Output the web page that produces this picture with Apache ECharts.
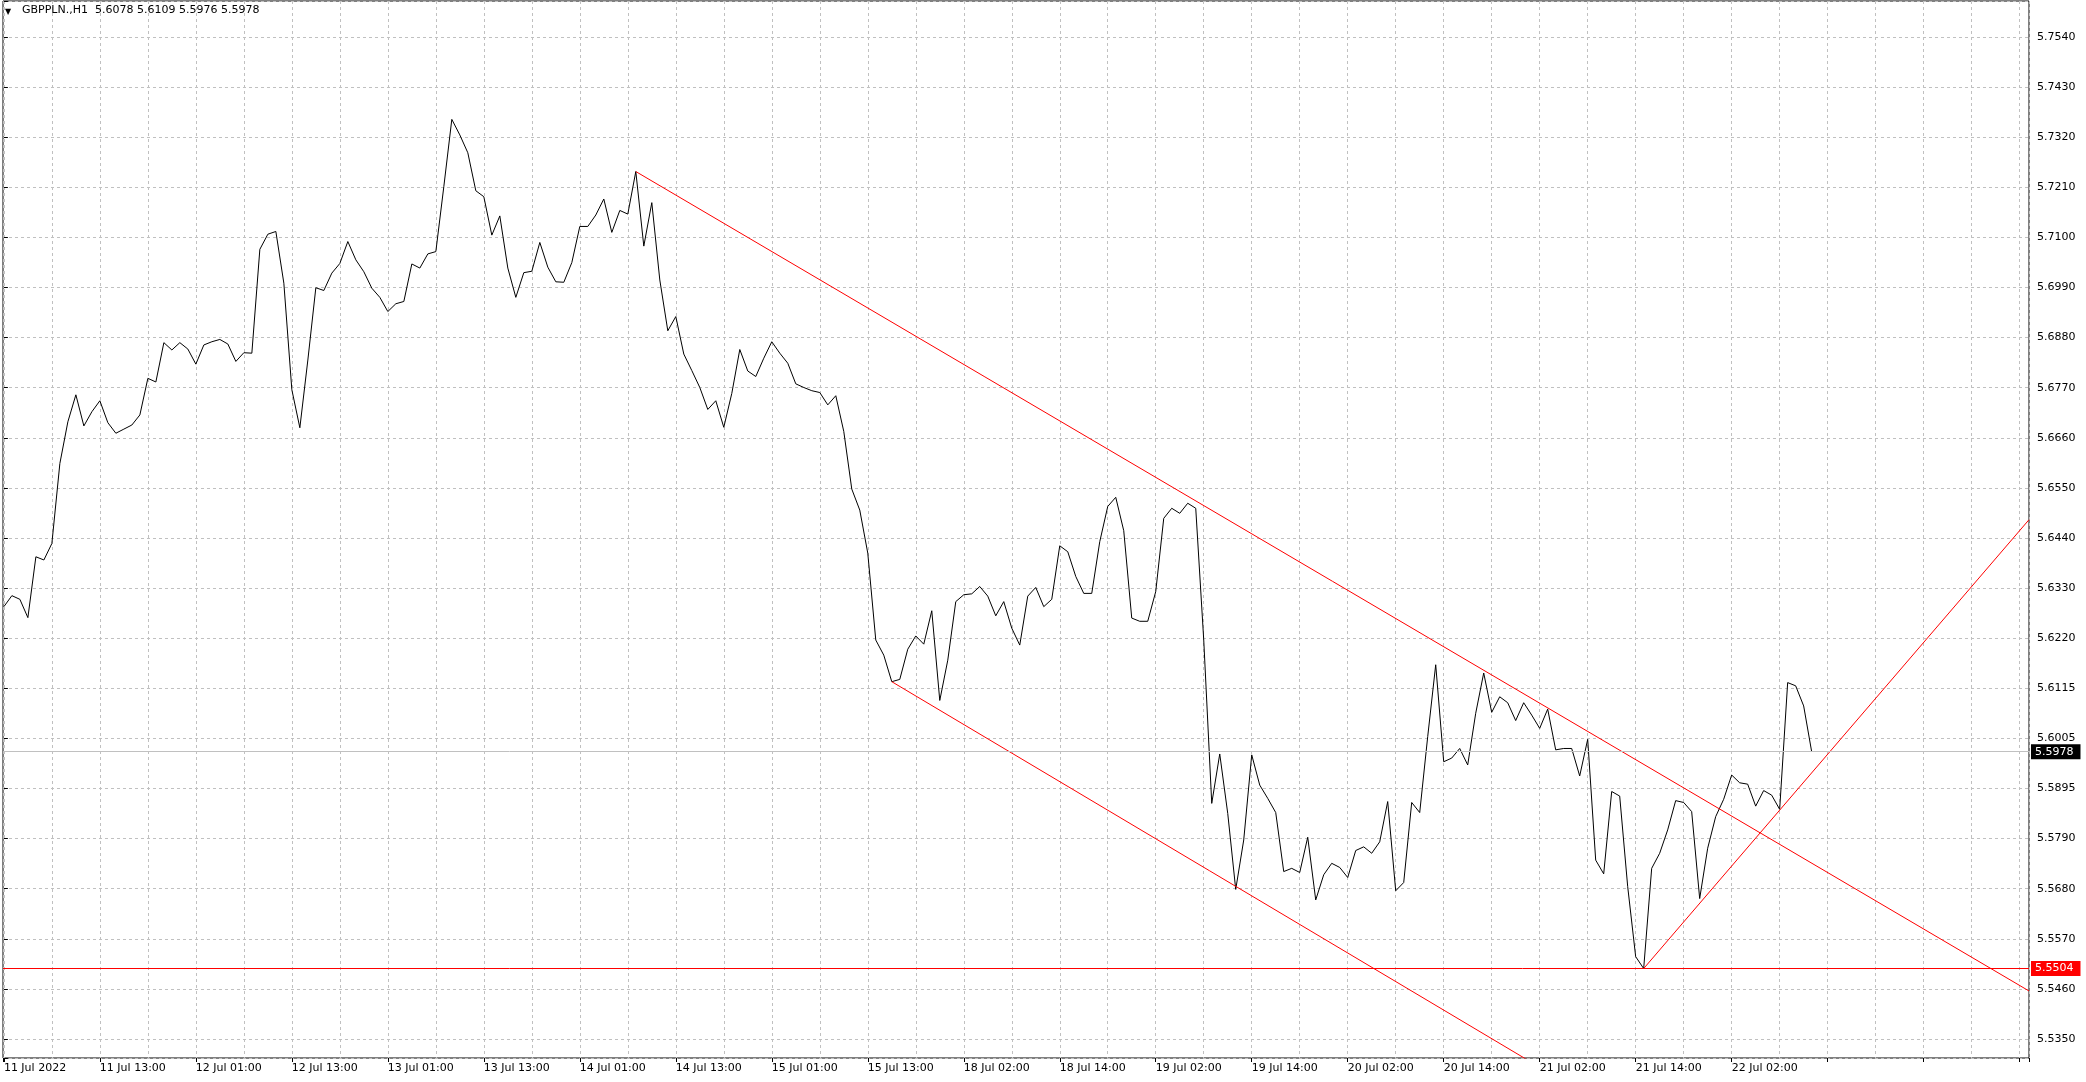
<!DOCTYPE html>
<html>
<head>
<meta charset="utf-8">
<script src="https://cdn.jsdelivr.net/npm/echarts@6/dist/echarts.min.js"></script>
<style>
html,body{margin:0;padding:0;background:#fff;}
#main{width:2086px;height:1082px;}
</style>
</head>
<body>
<div id="main"></div>
<script>
// ---- data ----
const SYMBOL = 'GBPPLN.,H1';
const OHLC = ['5.6078', '5.6109', '5.5976', '5.5978'];

// hourly closes, bar 0 = 11 Jul 2022 01:00
const CLOSE = [
  5.6295, 5.6319, 5.6311, 5.6271, 5.6404, 5.6397, 5.6433, 5.6608, 5.6699, 5.6758,
  5.6690, 5.6721, 5.6745, 5.6697, 5.6674, 5.6683, 5.6692, 5.6714, 5.6794, 5.6786,
  5.6872, 5.6856, 5.6872, 5.6858, 5.6825, 5.6867, 5.6874, 5.6879, 5.6869, 5.6831,
  5.6850, 5.6849, 5.7076, 5.7109, 5.7115, 5.7002, 5.6769, 5.6686, 5.6834, 5.6992,
  5.6986, 5.7024, 5.7045, 5.7093, 5.7053, 5.7027, 5.6991, 5.6971, 5.6940, 5.6957,
  5.6962, 5.7044, 5.7035, 5.7066, 5.7071, 5.7213, 5.7360, 5.7326, 5.7287, 5.7204,
  5.7191, 5.7107, 5.7149, 5.7035, 5.6971, 5.7025, 5.7028, 5.7091, 5.7037, 5.7005,
  5.7004, 5.7047, 5.7126, 5.7126, 5.7151, 5.7186, 5.7113, 5.7161, 5.7153, 5.7246,
  5.7083, 5.7178, 5.7009, 5.6898, 5.6929, 5.6847, 5.6811, 5.6774, 5.6726, 5.6745,
  5.6687, 5.6761, 5.6857, 5.6810, 5.6798, 5.6838, 5.6874, 5.6849, 5.6827, 5.6782,
  5.6774, 5.6767, 5.6763, 5.6736, 5.6756, 5.6678, 5.6552, 5.6506, 5.6412, 5.6222,
  5.6189, 5.6131, 5.6136, 5.6202, 5.6231, 5.6213, 5.6286, 5.6090, 5.6178, 5.6306,
  5.6321, 5.6323, 5.6339, 5.6318, 5.6275, 5.6306, 5.6248, 5.6211, 5.6318, 5.6337,
  5.6295, 5.6311, 5.6428, 5.6415, 5.6361, 5.6324, 5.6324, 5.6437, 5.6514, 5.6534,
  5.6461, 5.6270, 5.6263, 5.6263, 5.6328, 5.6488, 5.6510, 5.6499, 5.6521, 5.6510,
  5.6222, 5.5865, 5.5973, 5.5843, 5.5677, 5.5785, 5.5971, 5.5905, 5.5876, 5.5845,
  5.5716, 5.5723, 5.5714, 5.5791, 5.5654, 5.5709, 5.5734, 5.5725, 5.5703, 5.5762,
  5.5770, 5.5756, 5.5781, 5.5869, 5.5674, 5.5692, 5.5867, 5.5845, 5.6011, 5.6168,
  5.5956, 5.5964, 5.5985, 5.5949, 5.6062, 5.6150, 5.6064, 5.6098, 5.6085, 5.6046,
  5.6085, 5.6058, 5.6029, 5.6071, 5.5982, 5.5985, 5.5985, 5.5925, 5.6005, 5.5741,
  5.5711, 5.5891, 5.5881, 5.5683, 5.5530, 5.5504, 5.5723, 5.5756, 5.5807, 5.5871,
  5.5867, 5.5847, 5.5657, 5.5767, 5.5836, 5.5874, 5.5927, 5.5910, 5.5907, 5.5859,
  5.5893, 5.5883, 5.5852, 5.6129, 5.6122, 5.6078, 5.5978
];

// time labels every 12 bars starting at bar 0
const X_TICK_LABELS = [
  '11 Jul 2022', '11 Jul 13:00', '12 Jul 01:00', '12 Jul 13:00', '13 Jul 01:00',
  '13 Jul 13:00', '14 Jul 01:00', '14 Jul 13:00', '15 Jul 01:00', '15 Jul 13:00',
  '18 Jul 02:00', '18 Jul 14:00', '19 Jul 02:00', '19 Jul 14:00', '20 Jul 02:00',
  '20 Jul 14:00', '21 Jul 02:00', '21 Jul 14:00', '22 Jul 02:00'
];

// price scale labels, bottom to top
const Y_TICK_LABELS = [
  '5.5350', '5.5460', '5.5570', '5.5680', '5.5790', '5.5895', '5.6005', '5.6115',
  '5.6220', '5.6330', '5.6440', '5.6550', '5.6660', '5.6770', '5.6880', '5.6990',
  '5.7100', '5.7210', '5.7320', '5.7430', '5.7540'
];

// drawing objects: [bar index, price]
const CHANNEL_UPPER = [[79, 5.7246], [253.17, 5.5455]];
const CHANNEL_LOWER = [[111, 5.6131], [253.17, 5.4652]];
const TREND_UP = [[205, 5.5504], [253.17, 5.6485]];
const BID = 5.5978;
const SUPPORT = 5.5504;

// ---- scale layout ----
const PRICE_BASE = 5.5350;   // price of first labelled grid line
const PRICE_STEP = 0.01095;  // price between grid lines
const U_MIN = -0.379, U_MAX = 20.719;
const P_MIN = PRICE_BASE + U_MIN * PRICE_STEP;
const P_MAX = PRICE_BASE + U_MAX * PRICE_STEP;
const X_MIN = -0.11, X_MAX = 253.17;

const FONT = "'DejaVu Sans', 'Noto Sans', sans-serif";

const chart = echarts.init(document.getElementById('main'), null, {renderer: 'canvas'});

function xLabel(v) {
  const r = Math.round(v);
  if (Math.abs(v - r) > 1e-6 || r % 12 !== 0) return '';
  const k = r / 12;
  return k >= 0 && k < X_TICK_LABELS.length ? X_TICK_LABELS[k] : '';
}
function yLabel(v) {
  const r = Math.round(v);
  if (Math.abs(v - r) > 1e-6) return '';
  return r >= 0 && r < Y_TICK_LABELS.length ? Y_TICK_LABELS[r] : '';
}

const priceLabel = (txt, bg) => ({
  show: true,
  position: 'end',
  distance: 2,
  formatter: txt,
  color: '#fff',
  backgroundColor: bg,
  padding: [2, 7, 1, 4],
  fontFamily: FONT,
  fontSize: 11,
  lineHeight: 12
});

const option = {
  animation: false,
  backgroundColor: '#fff',
  textStyle: {fontFamily: FONT, fontSize: 11, color: '#000'},
  grid: {
    left: 2.5, right: 57, top: 1, bottom: 24,
    show: true, borderColor: '#000', borderWidth: 1, backgroundColor: '#fff'
  },
  xAxis: [
    {
      type: 'value', min: X_MIN, max: X_MAX,
      minInterval: 6, maxInterval: 6, splitNumber: 42,
      axisLine: {show: false}, axisTick: {show: false}, axisLabel: {show: false},
      splitLine: {show: true, lineStyle: {color: '#c0c0c0', width: 1, type: [3, 3]}}
    },
    {
      type: 'value', min: X_MIN, max: X_MAX, position: 'bottom',
      minInterval: 12, maxInterval: 12, splitNumber: 21,
      axisLine: {show: false},
      axisTick: {show: true, length: 4, lineStyle: {color: '#000', width: 1}},
      axisLabel: {
        show: true, formatter: xLabel, align: 'left', margin: 5,
        color: '#000', fontFamily: FONT, fontSize: 11
      },
      splitLine: {show: false}
    }
  ],
  yAxis: [
    {type: 'value', min: P_MIN, max: P_MAX, show: false, splitLine: {show: false}},
    {
      type: 'value', min: U_MIN, max: U_MAX, position: 'right',
      minInterval: 1, maxInterval: 1, splitNumber: 21,
      axisLine: {show: false},
      axisTick: {show: true, length: 4, lineStyle: {color: '#000', width: 1}},
      axisLabel: {
        show: true, formatter: yLabel, margin: 8, align: 'left',
        color: '#000', fontFamily: FONT, fontSize: 11
      },
      splitLine: {show: true, lineStyle: {color: '#c0c0c0', width: 1, type: [3, 3]}}
    }
  ],
  graphic: [
    {type: 'text', left: 5, top: 8, z: 100,
     style: {text: '\u25BC', fill: '#000', font: "8px 'DejaVu Sans'"}},
    {type: 'text', left: 22, top: 5, z: 100,
     style: {text: SYMBOL + '  ' + OHLC.join(' '), fill: '#000', font: "11px 'DejaVu Sans'"}}
  ],
  series: [
    {
      type: 'line', xAxisIndex: 0, yAxisIndex: 0, z: 3,
      data: CLOSE.map((v, i) => [i, v]),
      symbol: 'none', showSymbol: false,
      lineStyle: {color: '#000', width: 1},
      markLine: {
        silent: true, symbol: ['none', 'none'], animation: false, precision: 4,
        data: [
          {yAxis: BID, lineStyle: {color: '#c0c0c0', width: 1, type: 'solid'},
           label: priceLabel(BID.toFixed(4), '#000')},
          {yAxis: SUPPORT, lineStyle: {color: '#ff0000', width: 1, type: 'solid'},
           label: priceLabel(SUPPORT.toFixed(4), '#ff0000')}
        ]
      }
    },
    {type: 'line', xAxisIndex: 0, yAxisIndex: 0, z: 4, data: CHANNEL_UPPER,
     symbol: 'none', lineStyle: {color: '#ff0000', width: 1}},
    {type: 'line', xAxisIndex: 0, yAxisIndex: 0, z: 4, data: CHANNEL_LOWER,
     symbol: 'none', lineStyle: {color: '#ff0000', width: 1}},
    {type: 'line', xAxisIndex: 0, yAxisIndex: 0, z: 4, data: TREND_UP,
     symbol: 'none', lineStyle: {color: '#ff0000', width: 1}}
  ]
};
chart.setOption(option);
</script>
</body>
</html>
